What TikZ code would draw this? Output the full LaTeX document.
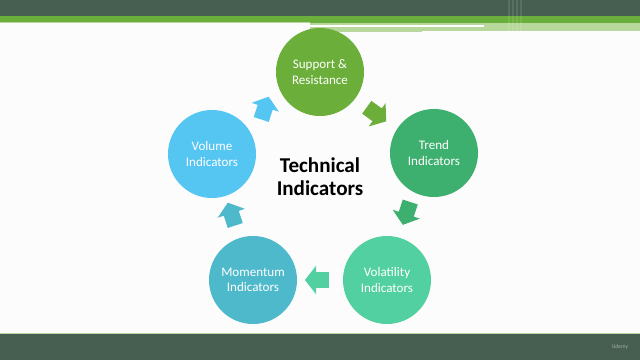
\documentclass[tikz,border=0pt]{standalone}
\usepackage{fontspec}
\setmainfont{Carlito}
\usetikzlibrary{positioning,shapes.arrows,calc}

\definecolor{bardark}{HTML}{475F50}
\definecolor{barlime}{HTML}{6AAF3B}
\definecolor{barpale}{HTML}{B7D79C}
\definecolor{supportc}{HTML}{6BAE3A}
\definecolor{trendc}{HTML}{3DB06F}
\definecolor{volatc}{HTML}{52D0A1}
\definecolor{momentc}{HTML}{4DB9CB}
\definecolor{volumec}{HTML}{55C5F2}

\begin{document}
\begin{tikzpicture}[
    x=0.025cm, y=-0.025cm,
    stage/.style={circle, minimum size=2.2cm, inner sep=0pt, align=center, text=white, font=\fontsize{9.3}{11}\selectfont},
    flow/.style={single arrow, draw=none, minimum height=0.6cm, inner xsep=0.05cm, inner ysep=0.19cm, single arrow head extend=0.16cm, single arrow tip angle=104},
    title/.style={align=center, font=\fontsize{15}{16.5}\selectfont\bfseries},
]
\useasboundingbox (0,0) rectangle (640,360);
\fill[white!99!black] (0,0) rectangle (640,360);

% Top band
\fill[bardark] (0,0) rectangle (640,16);
\fill[barlime] (0,16) rectangle (640,23);
\fill[barpale] (0,22) rectangle (310,23.5);
\fill[barpale] (310,23) rectangle (640,31);
\fill[white] (310,25) rectangle (484,27);
\fill[barpale] (310,27) rectangle (422,32);
\foreach \xx in {508,512,516,520}
  \fill[white, opacity=0.1] (\xx,0) rectangle ++(1.5,31);

% Bottom band
\fill[bardark] (0,333) rectangle (640,360);
\draw[barpale, line width=0.6pt] (0,333) -- (640,333);
\node[text=white, opacity=0.5, font=\fontsize{4}{4}\selectfont] (brand) at (620,347) {Udemy};

% Stages
\node[stage, fill=supportc] (support) at (320,72) {Support \&\\Resistance};
\node[stage, fill=trendc] (trend) at (434,153) {Trend\\Indicators};
\node[stage, fill=volatc] (volat) at (387,280) {Volatility\\Indicators};
\node[stage, fill=momentc] (moment) at (253,280) {Momentum\\Indicators};
\node[stage, fill=volumec] (volume) at (212,154) {Volume\\Indicators};

% Centre
\node[title] (tech) at (320,177) {Technical\\Indicators};

% Arrows between stages
\node[flow, fill=supportc, rotate=-36] (a1) at ($(support)!0.5!(trend)+(-3,0)$) {};
\node[flow, fill=trendc, rotate=-108] (a2) at ($(trend)!0.5!(volat)+(-3,-6)$) {};
\node[flow, fill=volatc, rotate=180] (a3) at ($(volat)!0.5!(moment)$) {};
\node[flow, fill=momentc, rotate=108] (a4) at ($(moment)!0.5!(volume)$) {};
\node[flow, fill=volumec, rotate=72] (a5) at ($(volume)!0.5!(support)+(-2,-2)$) {};

\end{tikzpicture}
\end{document}
